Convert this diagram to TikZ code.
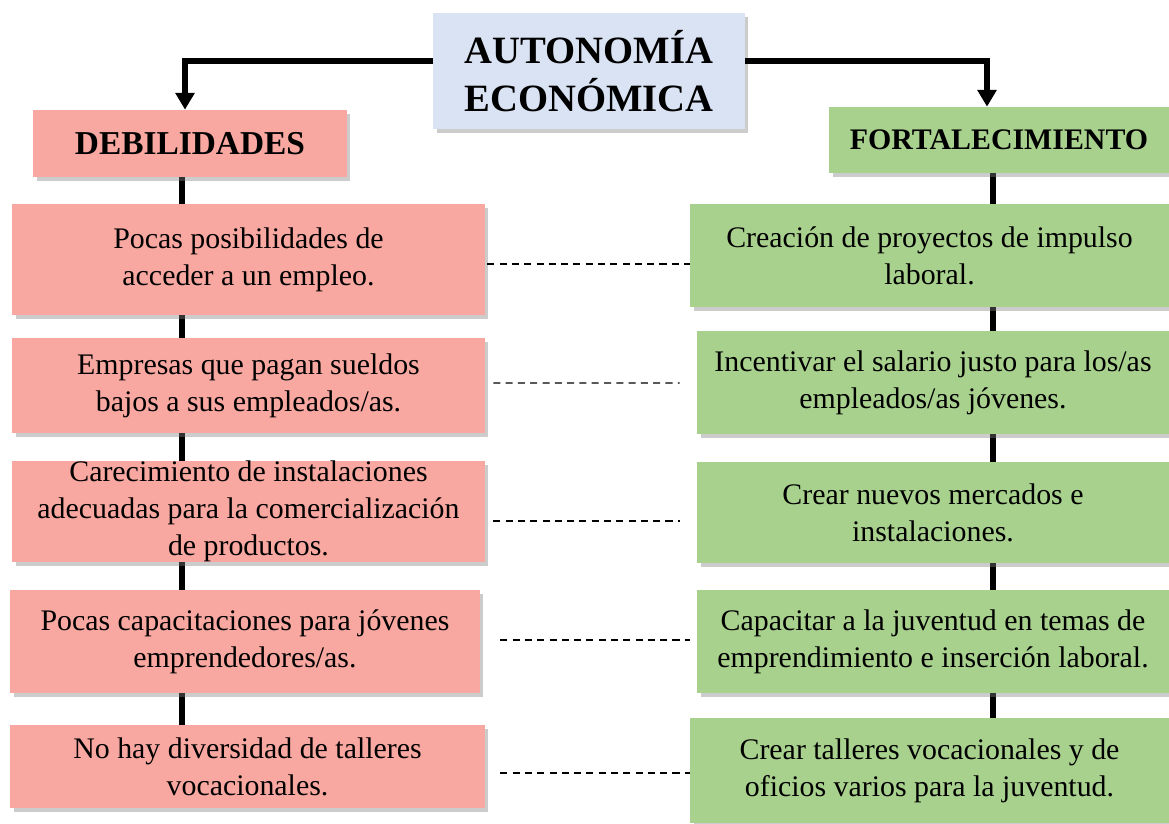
\documentclass[tikz,border=0pt]{standalone}
\usepackage{fontspec}
\setmainfont{Liberation Serif}
\usetikzlibrary{arrows.meta,shadows,backgrounds}
\definecolor{rosa}{HTML}{F8A8A0}
\definecolor{verde}{HTML}{A9D18E}
\definecolor{azul}{HTML}{DAE3F3}
\begin{document}
\begin{tikzpicture}[x=0.02cm,y=-0.02cm,
    caja/.style={inner sep=0pt,align=center,font=\fontsize{17}{21}\selectfont,
      drop shadow={opacity=0.4,shadow xshift=2pt,shadow yshift=-2.5pt}},
    debcaja/.style={caja,fill=rosa},
    fortcaja/.style={caja,fill=verde},
    link/.style={line width=3.2pt},
    guia/.style={line width=0.8pt,dash pattern=on 4pt off 3pt}]
    \useasboundingbox (0,0) rectangle (1169,823);
    \node[caja,fill=azul,minimum width=6.24cm,minimum height=2.32cm,font=\bfseries\fontsize{22}{27}\selectfont](auto) at (589,71){AUTONOMÍA\\ECONÓMICA};
    \node[debcaja,minimum width=6.28cm,minimum height=1.34cm,font=\bfseries\fontsize{19}{23}\selectfont](debil) at (190,143.5){DEBILIDADES};
    \node[fortcaja,minimum width=6.8cm,minimum height=1.32cm,font=\bfseries\fontsize{17}{21}\selectfont](fortal) at (999,140){FORTALECIMIENTO};
    \node[debcaja,minimum width=9.46cm,minimum height=2.22cm](l1) at (248.5,259.5){Pocas posibilidades de\\acceder a un empleo.};
    \node[debcaja,minimum width=9.46cm,minimum height=1.9cm](l2) at (248.5,385.5){Empresas que pagan sueldos\\bajos a sus empleados/as.};
    \node[debcaja,minimum width=9.46cm,minimum height=1.98cm](l3) at (248.5,511.5){Carecimiento de instalaciones\\adecuadas para la comercialización\\de productos.};
    \node[debcaja,minimum width=9.4cm,minimum height=2.06cm](l4) at (245,641.5){Pocas capacitaciones para jóvenes\\emprendedores/as.};
    \node[debcaja,minimum width=9.5cm,minimum height=1.66cm](l5) at (247.5,766.5){No hay diversidad de talleres\\vocacionales.};
    \node[fortcaja,minimum width=9.58cm,minimum height=2.06cm](r1) at (929.5,255.5){Creación de proyectos de impulso\\laboral.};
    \node[fortcaja,minimum width=9.44cm,minimum height=2.06cm](r2) at (933,382.5){Incentivar el salario justo para los/as\\empleados/as jóvenes.};
    \node[fortcaja,minimum width=9.44cm,minimum height=2.02cm](r3) at (933,512.5){Crear nuevos mercados e\\instalaciones.};
    \node[fortcaja,minimum width=9.44cm,minimum height=2.06cm](r4) at (933,641.5){Capacitar a la juventud en temas de\\emprendimiento e inserción laboral.};
    \node[fortcaja,minimum width=9.58cm,minimum height=2.1cm](r5) at (929.5,770.5){Crear talleres vocacionales y de\\oficios varios para la juventud.};
    \draw[link,-{Triangle[length=9.5pt,width=10.5pt]}]([shift={(0,-10)}]auto.west)-|([shift={(-5,0)}]debil.north);
    \draw[link,-{Triangle[length=9.5pt,width=10.5pt]}]([shift={(0,-10)}]auto.east)-|([shift={(-12,0)}]fortal.north);
    \begin{scope}[on background layer]
    \draw[link]([shift={(-8,0)}]debil.south)--([shift={(-8,0)}]debil.south |- l5.north);
    \draw[link]([shift={(-6,0)}]fortal.south)--([shift={(-6,0)}]fortal.south |- r5.north);
    \end{scope}
    \draw[guia]([shift={(2,4.5)}]l1.east)--([shift={(0,8.5)}]r1.west);
    \draw[guia]([shift={(8,-2.5)}]l2.east)--([shift={(-17,0.5)}]r2.west);
    \draw[guia]([shift={(8,9.5)}]l3.east)--([shift={(-17,8.5)}]r3.west);
    \draw[guia]([shift={(20,-1.5)}]l4.east)--([shift={(-7,-1.5)}]r4.west);
    \draw[guia]([shift={(15,6.5)}]l5.east)--([shift={(0,2.5)}]r5.west);
\end{tikzpicture}
\end{document}
